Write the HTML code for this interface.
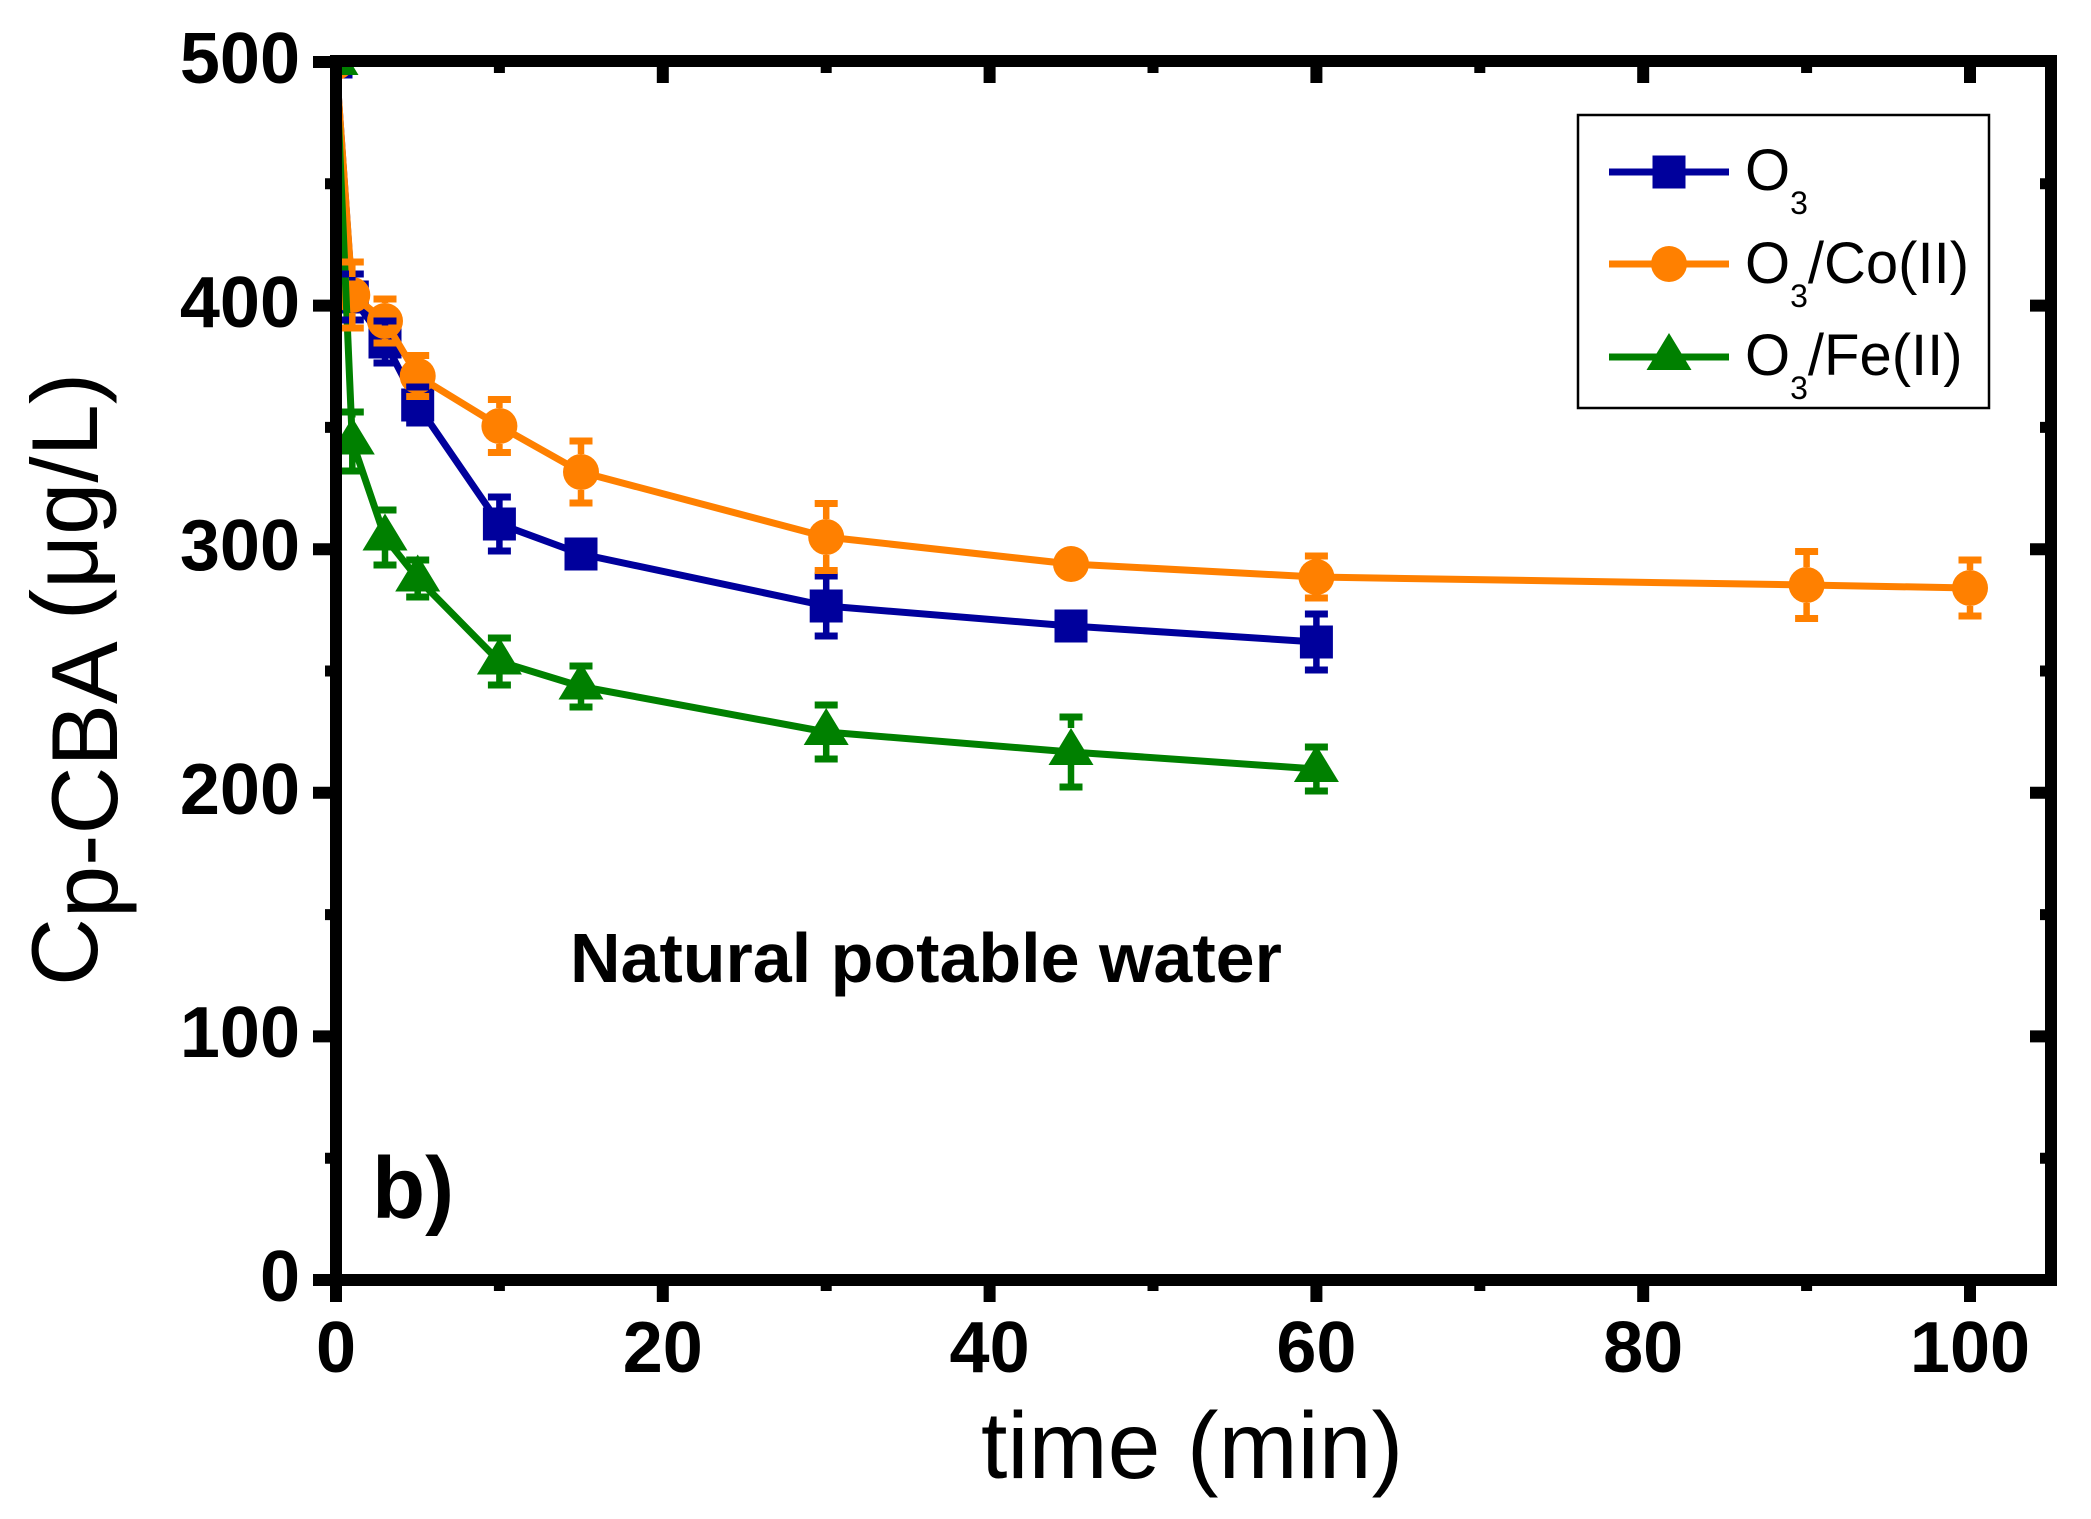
<!DOCTYPE html>
<html>
<head>
<meta charset="utf-8">
<style>
html,body{margin:0;padding:0;background:#fff;}
svg{display:block;}
text{font-family:"Liberation Sans",Arial,sans-serif;fill:#000;}
</style>
</head>
<body>
<svg width="2091" height="1519" viewBox="0 0 2091 1519" xmlns="http://www.w3.org/2000/svg">
<defs>
<clipPath id="pa"><rect x="336" y="61" width="1715" height="1219"/></clipPath>
</defs>
<rect x="0" y="0" width="2091" height="1519" fill="#fff"/>

<g clip-path="url(#pa)">
<!-- O3 series -->
<polyline fill="none" stroke="#00009C" stroke-width="7" stroke-linejoin="round" points="336,62 352.3,297 385,342 417.7,405 499.4,524 581,554 826.2,606 1071,626 1316.4,642"/>
<g fill="#00009C">
<rect x="319.5" y="45.5" width="33" height="33"/>
<rect x="335.8" y="280.5" width="33" height="33"/>
<rect x="368.5" y="325.5" width="33" height="33"/>
<rect x="401.2" y="388.5" width="33" height="33"/>
<rect x="482.9" y="507.5" width="33" height="33"/>
<rect x="564.5" y="537.5" width="33" height="33"/>
<rect x="809.7" y="589.5" width="33" height="33"/>
<rect x="1054.5" y="609.5" width="33" height="33"/>
<rect x="1299.9" y="625.5" width="33" height="33"/>
</g>
<!-- O3/Co(II) series -->
<polyline fill="none" stroke="#FF8000" stroke-width="7" stroke-linejoin="round" points="336,62 352.3,295 385,321 417.7,376 499.4,426 581,472 826.2,537 1071,564 1316.4,577 1806.6,585 1970,588"/>
<g fill="#FF8000">
<circle cx="336" cy="62" r="18"/>
<circle cx="352.3" cy="295" r="18"/>
<circle cx="385" cy="321" r="18"/>
<circle cx="417.7" cy="376" r="18"/>
<circle cx="499.4" cy="426" r="18"/>
<circle cx="581" cy="472" r="18"/>
<circle cx="826.2" cy="537" r="18"/>
<circle cx="1071" cy="564" r="18"/>
<circle cx="1316.4" cy="577" r="18"/>
<circle cx="1806.6" cy="585" r="18"/>
<circle cx="1970" cy="588" r="18"/>
</g>
<!-- O3/Fe(II) series -->
<polyline fill="none" stroke="#008000" stroke-width="7" stroke-linejoin="round" points="336,62 352.3,441.5 385,537.5 417.7,578.5 499.4,661.5 581,686.5 826.2,732 1071,752 1316.4,769"/>
<g fill="#008000">
<path d="M336 38 L358.5 75 L313.5 75 Z"/>
<path d="M352.3 417.5 L374.8 454.5 L329.8 454.5 Z"/>
<path d="M385 513.5 L407.5 550.5 L362.5 550.5 Z"/>
<path d="M417.7 554.5 L440.2 591.5 L395.2 591.5 Z"/>
<path d="M499.4 637.5 L521.9 674.5 L476.9 674.5 Z"/>
<path d="M581 662.5 L603.5 699.5 L558.5 699.5 Z"/>
<path d="M826.2 708 L848.7 745 L803.7 745 Z"/>
<path d="M1071 728 L1093.5 765 L1048.5 765 Z"/>
<path d="M1316.4 745 L1338.9 782 L1293.9 782 Z"/>
</g>

<!-- error bars: O3 -->
<g stroke="#00009C" fill="none" stroke-linecap="butt">
<path stroke-width="6.5" d="M352.3 274V280.5M352.3 313.5V320 M385 321V325.5M385 358.5V363 M417.7 387V388.5M417.7 421.5V423 M499.4 497V507.5M499.4 540.5V551 M826.2 576V589.5M826.2 622.5V636 M1316.4 614V625.5M1316.4 658.5V670"/>
<path stroke-width="7" d="M340.8 274H363.8M340.8 320H363.8 M373.5 321H396.5M373.5 363H396.5 M406.2 387H429.2M406.2 423H429.2 M487.9 497H510.9M487.9 551H510.9 M814.7 576H837.7M814.7 636H837.7 M1304.9 614H1327.9M1304.9 670H1327.9"/>
</g>
<!-- error bars: O3/Co(II) -->
<g stroke="#FF8000" fill="none" stroke-linecap="butt">
<path stroke-width="6.5" d="M352.3 262V277M352.3 313V328 M385 299V303M385 339V343 M417.7 355.5V358M417.7 394V396.5 M499.4 399.5V408M499.4 444V452.5 M581 441V454M581 490V503 M826.2 503.5V519M826.2 555V570.5 M1316.4 556V559M1316.4 595V598 M1806.6 551.5V567M1806.6 603V618.5 M1970 560V570M1970 606V616"/>
<path stroke-width="7" d="M340.8 262H363.8M340.8 328H363.8 M373.5 299H396.5M373.5 343H396.5 M406.2 355.5H429.2M406.2 396.5H429.2 M487.9 399.5H510.9M487.9 452.5H510.9 M569.5 441H592.5M569.5 503H592.5 M814.7 503.5H837.7M814.7 570.5H837.7 M1304.9 556H1327.9M1304.9 598H1327.9 M1795.1 551.5H1818.1M1795.1 618.5H1818.1 M1958.5 560H1981.5M1958.5 616H1981.5"/>
</g>
<!-- error bars: O3/Fe(II) -->
<g stroke="#008000" fill="none" stroke-linecap="butt">
<path stroke-width="6.5" d="M352.3 412V417.5M352.3 454.5V471 M385 510V513.5M385 550.5V565 M417.7 591.5V597 M499.4 674.5V685 M581 699.5V707 M826.2 705V708M826.2 745V759 M1071 717V728M1071 765V787 M1316.4 782V791"/>
<path stroke-width="7" d="M340.8 412H363.8M340.8 471H363.8 M373.5 510H396.5M373.5 565H396.5 M406.2 560H429.2M406.2 597H429.2 M487.9 638H510.9M487.9 685H510.9 M569.5 666H592.5M569.5 707H592.5 M814.7 705H837.7M814.7 759H837.7 M1059.5 717H1082.5M1059.5 787H1082.5 M1304.9 747H1327.9M1304.9 791H1327.9"/>
</g>
</g>

<!-- frame -->
<rect x="336" y="61" width="1715" height="1219" fill="none" stroke="#000" stroke-width="12"/>

<!-- ticks -->
<g stroke="#000" fill="none" stroke-linecap="butt">
<path stroke-width="12" d="M313 1280H336M313 1036.4H336M313 792.8H336M313 549.2H336M313 305.6H336M313 62H336"/>
<path stroke-width="11" d="M325 1158.2H336M325 914.6H336M325 671H336M325 427.4H336M325 183.8H336"/>
<path stroke-width="12" d="M2051 1036.4H2030M2051 792.8H2030M2051 549.2H2030M2051 305.6H2030"/>
<path stroke-width="11" d="M2051 1158.2H2040M2051 914.6H2040M2051 671H2040M2051 427.4H2040M2051 183.8H2040"/>
<path stroke-width="12" d="M336 1280V1302M662.8 1280V1302M989.6 1280V1302M1316.4 1280V1302M1643.2 1280V1302M1970 1280V1302"/>
<path stroke-width="11" d="M499.4 1280V1291M826.2 1280V1291M1153 1280V1291M1479.8 1280V1291M1806.6 1280V1291"/>
<path stroke-width="12" d="M662.8 61V83M989.6 61V83M1316.4 61V83M1643.2 61V83M1970 61V83"/>
<path stroke-width="11" d="M499.4 61V73M826.2 61V73M1153 61V73M1479.8 61V73M1806.6 61V73"/>
</g>

<!-- y tick labels -->
<g font-size="72" font-weight="bold" text-anchor="end">
<text x="300" y="83">500</text>
<text x="300" y="327">400</text>
<text x="300" y="570">300</text>
<text x="300" y="814">200</text>
<text x="300" y="1057">100</text>
<text x="300" y="1301">0</text>
</g>
<!-- x tick labels -->
<g font-size="72" font-weight="bold" text-anchor="middle">
<text x="336" y="1372">0</text>
<text x="662.8" y="1372">20</text>
<text x="989.6" y="1372">40</text>
<text x="1316.4" y="1372">60</text>
<text x="1643.2" y="1372">80</text>
<text x="1970" y="1372">100</text>
</g>

<!-- axis titles -->
<text x="981" y="1478" font-size="95">time (min)</text>
<text transform="translate(97,986) rotate(-90)" font-size="94">C<tspan dy="20">p-CBA</tspan><tspan dy="-20"> (μg/L)</tspan></text>

<!-- annotations -->
<text x="570" y="982" font-size="70" font-weight="bold">Natural potable water</text>
<text x="372" y="1218" font-size="87" font-weight="bold">b)</text>

<!-- legend -->
<rect x="1578" y="115" width="411" height="293" fill="#fff" stroke="#000" stroke-width="2.5"/>
<path d="M1609 172H1729" stroke="#00009C" stroke-width="7"/>
<rect x="1652.5" y="155.5" width="33" height="33" fill="#00009C"/>
<path d="M1609 264H1729" stroke="#FF8000" stroke-width="7"/>
<circle cx="1669" cy="264" r="18" fill="#FF8000"/>
<path d="M1609 357H1729" stroke="#008000" stroke-width="7"/>
<path d="M1669 333 L1691.5 370 L1646.5 370 Z" fill="#008000"/>
<g font-size="58">
<text x="1745" y="190">O<tspan font-size="32" dy="24">3</tspan></text>
<text x="1745" y="283">O<tspan font-size="32" dy="24">3</tspan><tspan dy="-24">/Co(II)</tspan></text>
<text x="1745" y="375">O<tspan font-size="32" dy="24">3</tspan><tspan dy="-24">/Fe(II)</tspan></text>
</g>
</svg>
</body>
</html>
